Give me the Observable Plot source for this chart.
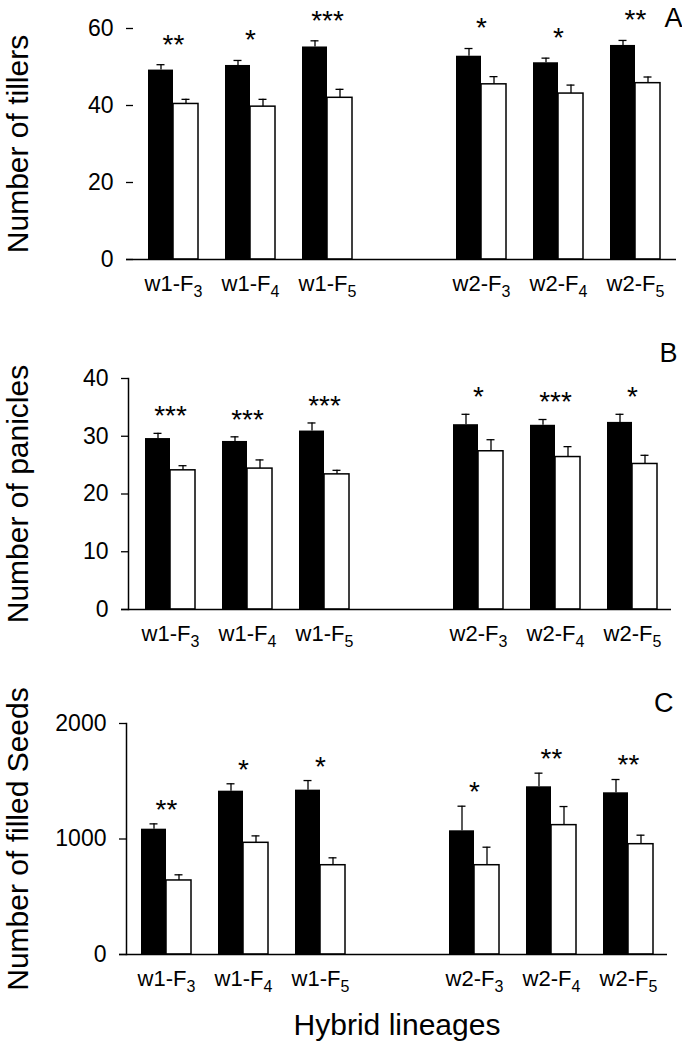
<!DOCTYPE html>
<html>
<head>
<meta charset="utf-8">
<script src="https://cdn.jsdelivr.net/npm/d3@7"></script>
<script src="https://cdn.jsdelivr.net/npm/@observablehq/plot@0.6"></script>
<style>
  body { margin: 0; background: #fff; }
  #fig { position: relative; width: 682px; height: 1053px; font-family: "Liberation Sans", Arial, sans-serif; }
  #fig svg { position: absolute; left: 0; overflow: visible; }
</style>
</head>
<body>
<div id="fig"></div>
<script>
// Hybrid lineages, with an empty slot separating the w1 and w2 series
const lineages = ["w1-F3", "w1-F4", "w1-F5", "w2-F3", "w2-F4", "w2-F5"];
const spacer = "";
const slots = ["w1-F3", "w1-F4", "w1-F5", spacer, "w2-F3", "w2-F4", "w2-F5"];

// A: number of tillers (black bars, white bars, standard errors)
const tillersBlack   = [49.2, 50.4, 55.2, 52.8, 51.1, 55.6];
const tillersBlackSE = [1.4, 1.3, 1.6, 2.0, 1.2, 1.3];
const tillersWhite   = [40.4, 39.7, 42.0, 45.5, 43.1, 45.8];
const tillersWhiteSE = [1.2, 1.9, 2.2, 2.0, 2.2, 1.6];
const tillersSig     = ["**", "*", "***", "*", "*", "**"];
const tillersTicks   = [0, 20, 40, 60];

// B: number of panicles
const paniclesBlack   = [29.6, 29.1, 30.9, 32.0, 31.9, 32.4];
const paniclesBlackSE = [0.9, 0.8, 1.4, 1.8, 1.0, 1.4];
const paniclesWhite   = [24.1, 24.4, 23.4, 27.4, 26.4, 25.2];
const paniclesWhiteSE = [0.8, 1.5, 0.7, 2.0, 1.8, 1.5];
const paniclesSig     = ["***", "***", "***", "*", "***", "*"];
const paniclesTicks   = [0, 10, 20, 30, 40];

// C: number of filled seeds
const seedsBlack   = [1085, 1414, 1423, 1071, 1452, 1400];
const seedsBlackSE = [46, 64, 83, 213, 118, 115];
const seedsWhite   = [641, 967, 773, 773, 1120, 955];
const seedsWhiteSE = [49, 60, 64, 156, 161, 78];
const seedsSig     = ["**", "*", "*", "*", "**", "**"];
const seedsTicks   = [0, 1000, 2000];

const FONT = "Liberation Sans, Arial, sans-serif";
const BAR = 25;   // width of one bar
const CAP = 4;    // half width of an error-bar cap

function panel(cfg) {
  const rows = lineages.flatMap((l, i) => [
    {lineage: l, shade: "black", mean: cfg.black[i], se: cfg.blackSE[i]},
    {lineage: l, shade: "white", mean: cfg.white[i], se: cfg.whiteSE[i]}
  ]);
  const blackRows = rows.filter(d => d.shade === "black");
  const whiteRows = rows.filter(d => d.shade === "white");
  const stars = lineages.map((l, i) => ({
    lineage: l,
    top: Math.max(cfg.black[i] + cfg.blackSE[i], cfg.white[i] + cfg.whiteSE[i]),
    mark: cfg.sig[i]
  }));

  // band geometry: each band holds a black and a white bar side by side
  const bw = 2 * BAR;
  const span = cfg.lastCenter - cfg.firstCenter + bw;
  const pad = (span - slots.length * bw) / (span - bw);
  const top = d => d.mean + d.se;

  const marks = [
    Plot.barY(blackRows, {x: "lineage", y: "mean", fill: "black", insetRight: BAR}),
    Plot.barY(whiteRows, {x: "lineage", y: "mean", fill: "white", stroke: "black", strokeWidth: 1.5, insetLeft: BAR}),
    Plot.ruleX(blackRows, {x: "lineage", y1: "mean", y2: top, dx: -BAR / 2, strokeWidth: 1.3}),
    Plot.ruleX(whiteRows, {x: "lineage", y1: "mean", y2: top, dx: BAR / 2, strokeWidth: 1.3}),
    Plot.tickY(blackRows, {x: "lineage", y: top, insetLeft: BAR / 2 - CAP, insetRight: bw - BAR / 2 - CAP, strokeWidth: 1.3}),
    Plot.tickY(whiteRows, {x: "lineage", y: top, insetLeft: bw - BAR / 2 - CAP, insetRight: BAR / 2 - CAP, strokeWidth: 1.3}),
    Plot.text(stars, {x: "lineage", y: "top", text: "mark", dy: -cfg.starGap, lineAnchor: "middle", fontSize: 28, fontFamily: FONT, letterSpacing: 2.5}),
    Plot.ruleY([0], {insetLeft: -7, strokeWidth: 1.5}),
    Plot.axisY({ticks: cfg.ticks, tickFormat: d => String(d), tickSize: 7, tickPadding: 13, fontSize: 23, fontFamily: FONT, label: null, strokeWidth: 1.3}),
    Plot.axisX({ticks: lineages, tickSize: 0, tickPadding: 16, fontSize: 22, fontFamily: FONT, label: null}),
    Plot.text([cfg.yLabel], {frameAnchor: "left", rotate: -90, textAnchor: "middle", lineAnchor: "top", dx: -(cfg.marginLeft - 6), fontSize: 30, fontFamily: FONT}),
    Plot.text([cfg.letter], {frameAnchor: "top-right", textAnchor: "end", lineAnchor: "top", dx: 6, dy: cfg.letterDy, fontSize: 27, fontFamily: FONT})
  ];
  if (cfg.axisLine) marks.push(Plot.frame({anchor: "left", strokeWidth: 1.5}));
  if (cfg.xLabel) marks.push(Plot.text([cfg.xLabel], {frameAnchor: "bottom", lineAnchor: "bottom", dy: cfg.xLabelOffset, fontSize: 30, fontFamily: FONT}));

  const svg = Plot.plot({
    width: 682,
    height: cfg.height,
    marginTop: cfg.marginTop,
    marginBottom: cfg.marginBottom,
    marginLeft: cfg.marginLeft,
    marginRight: cfg.marginRight,
    style: {fontFamily: FONT, color: "black", background: "white", overflow: "visible"},
    x: {type: "band", domain: slots, range: [cfg.firstCenter - BAR, cfg.lastCenter + BAR], paddingInner: pad, paddingOuter: 0},
    y: {domain: cfg.domain, nice: false},
    marks
  });

  // lineage labels carry a subscripted generation number
  svg.querySelectorAll('[aria-label="x-axis tick label"] text').forEach(t => {
    const s = t.textContent.trim();
    const m = s.match(/^(.*F)(\d)$/);
    if (!m) return;
    t.textContent = "";
    const a = document.createElementNS("http://www.w3.org/2000/svg", "tspan");
    a.textContent = m[1];
    const b = document.createElementNS("http://www.w3.org/2000/svg", "tspan");
    b.textContent = m[2];
    b.setAttribute("font-size", "16");
    b.setAttribute("dy", "6");
    t.appendChild(a);
    t.appendChild(b);
  });

  svg.style.top = cfg.top + "px";
  document.getElementById("fig").appendChild(svg);
}

panel({
  top: 0, height: 305, marginTop: 28, marginBottom: 46, marginLeft: 133, marginRight: 6,
  firstCenter: 170.4, lastCenter: 637, domain: [0, 60], ticks: tillersTicks,
  black: tillersBlack, blackSE: tillersBlackSE, white: tillersWhite, whiteSE: tillersWhiteSE, sig: tillersSig,
  yLabel: "Number of tillers", letter: "A", letterDy: -21, starGap: 20, axisLine: false
});

panel({
  top: 305, height: 345, marginTop: 73, marginBottom: 41, marginLeft: 128, marginRight: 11,
  firstCenter: 169, lastCenter: 633, domain: [0, 40], ticks: paniclesTicks,
  black: paniclesBlack, blackSE: paniclesBlackSE, white: paniclesWhite, whiteSE: paniclesWhiteSE, sig: paniclesSig,
  yLabel: "Number of panicles", letter: "B", letterDy: -36, starGap: 17, axisLine: true
});

panel({
  top: 650, height: 403, marginTop: 73, marginBottom: 99, marginLeft: 126, marginRight: 15,
  firstCenter: 164, lastCenter: 629, domain: [0, 2000], ticks: seedsTicks,
  black: seedsBlack, blackSE: seedsBlackSE, white: seedsWhite, whiteSE: seedsWhiteSE, sig: seedsSig,
  yLabel: "Number of filled Seeds", letter: "C", letterDy: -31, starGap: 14, axisLine: true,
  xLabel: "Hybrid lineages", xLabelOffset: 80
});
</script>
</body>
</html>
